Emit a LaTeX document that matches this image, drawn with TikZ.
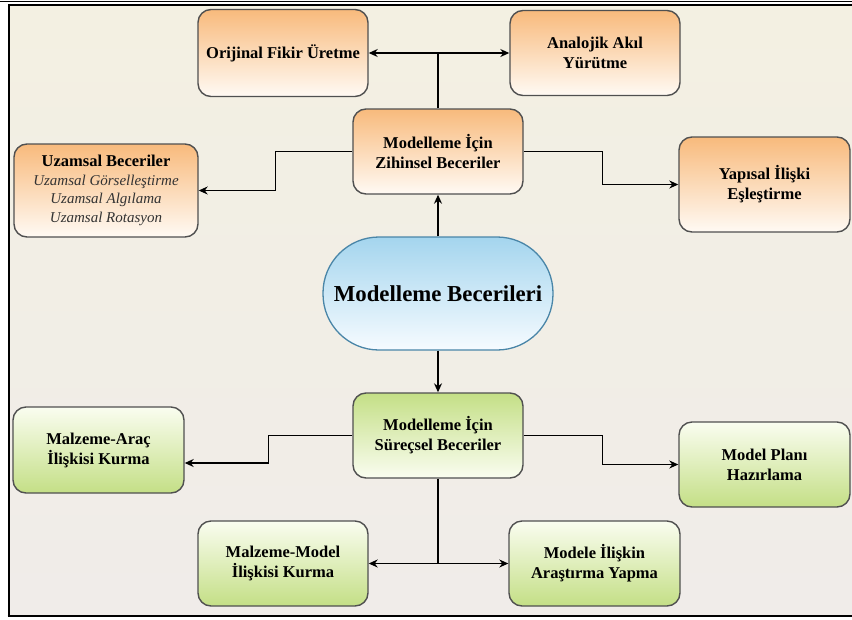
\documentclass[tikz,border=0pt]{standalone}
\usepackage{fontspec}
\setmainfont{Liberation Serif}
\usetikzlibrary{arrows.meta}
\definecolor{boxline}{HTML}{505050}
\definecolor{turuncuUst}{HTML}{F8BA7C}
\definecolor{turuncuAlt}{HTML}{FFFAF4}
\definecolor{yesilKoyu}{HTML}{C4DF86}
\definecolor{yesilAcik}{HTML}{FAFDF0}
\definecolor{maviUst}{HTML}{A4D5EE}
\definecolor{maviAlt}{HTML}{F6FBFF}
\definecolor{maviCizgi}{HTML}{4A86A8}
\definecolor{zeminUst}{HTML}{F3F0E2}
\definecolor{zeminAlt}{HTML}{F0ECE9}
\begin{document}
\begin{tikzpicture}[x=1pt, y=-1pt,
		kutu/.style={rectangle, rounded corners=13pt, draw=boxline, line width=1.4pt, minimum width=170pt, minimum height=85pt, inner sep=0pt, align=center, font=\fontsize{16.5}{20}\selectfont\bfseries},
		turuncu/.style={kutu, top color=turuncuUst, bottom color=turuncuAlt},
		yesil/.style={kutu, top color=yesilAcik, bottom color=yesilKoyu},
		ok/.style={-{Stealth[length=9pt,width=8pt]}, line width=1.3pt},
	]
	\useasboundingbox (0,0) rectangle (852,619);
	% zemin ve cerceve
	\shade[top color=zeminUst, bottom color=zeminAlt] (9,5) rectangle (852,616);
	\draw[line width=1pt] (0,1) -- (852,1);
	\draw[line width=2pt] (8.5,616) -- (8.5,4.5) -- (852,4.5);
	\draw[line width=2pt] (7.5,616) -- (852,616);

	% ana dugum
	\node (merkez) at (438,293.5) [rectangle, rounded corners=56pt, draw=maviCizgi, line width=1.3pt, minimum width=230pt, minimum height=113pt, top color=maviUst, bottom color=maviAlt, font=\fontsize{22.8}{26}\selectfont\bfseries] {Modelleme Becerileri};

	% zihinsel beceriler
	\node (zihinsel) at (438,151.5) [turuncu] {Modelleme İçin\\Zihinsel Beceriler};
	\node (orijinal) at (283,53) [turuncu, minimum height=87pt] {Orijinal Fikir Üretme};
	\node (analojik) at (595,53) [turuncu] {Analojik Akıl\\Yürütme};
	\node (uzamsal) at (106,190.5) [turuncu, minimum width=184pt, minimum height=93pt, font=\fontsize{15}{18.5}\selectfont] {\textbf{\fontsize{16.5}{18.5}\selectfont Uzamsal Beceriler}\\\textit{\color{black!80}Uzamsal Görselleştirme}\\\textit{\color{black!80}Uzamsal Algılama}\\\textit{\color{black!80}Uzamsal Rotasyon}};
	\node (yapisal) at (764.5,184.5) [turuncu, minimum width=171pt, minimum height=95pt] {Yapısal İlişki\\Eşleştirme};

	% surecsel beceriler
	\node (surecsel) at (438,435.5) [kutu, top color=yesilKoyu, bottom color=yesilAcik] {Modelleme İçin\\Süreçsel Beceriler};
	\node (arac) at (98.5,450) [yesil, minimum width=171pt, minimum height=86pt] {Malzeme-Araç\\İlişkisi Kurma};
	\node (plan) at (764.5,464.5) [yesil, minimum width=171pt] {Model Planı\\Hazırlama};
	\node (malzModel) at (283,563.5) [yesil] {Malzeme-Model\\İlişkisi Kurma};
	\node (arastirma) at (594.5,563.5) [yesil, minimum width=171pt] {Modele İlişkin\\Araştırma Yapma};

	\coordinate (ust) at (438,53);
	\coordinate (alt) at (438,563.5);

	% baglantilar
	\draw[ok] (merkez.north) -- (zihinsel.south);
	\draw[ok] (merkez.south) -- (surecsel.north);
	\draw[line width=1.3pt] (zihinsel.north) -- (ust);
	\draw[ok] (ust) -- (orijinal.east);
	\draw[ok] (ust) -- (analojik.west);
	\draw[ok] (zihinsel.west) -- ++(-77,0) |- (uzamsal.east);
	\draw[ok] (zihinsel.east) -- ++(79,0) |- (yapisal.west);
	\draw[ok] (surecsel.west) -- ++(-84,0) |- ([yshift=-13pt]arac.east);
	\draw[ok] (surecsel.east) -- ++(79,0) |- (plan.west);
	\draw[line width=1.3pt] (surecsel.south) -- (alt);
	\draw[ok] (alt) -- (malzModel.east);
	\draw[ok] (alt) -- (arastirma.west);
\end{tikzpicture}
\end{document}
